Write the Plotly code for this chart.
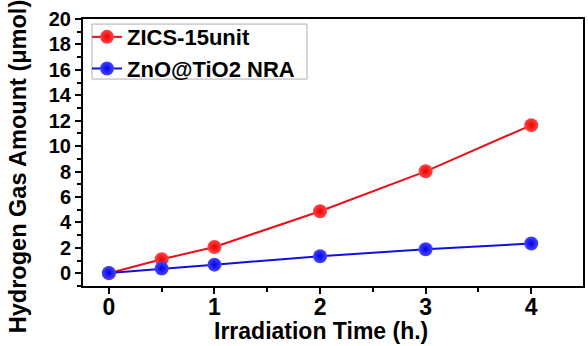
import plotly.graph_objects as go

# Irradiation time (h) and hydrogen evolved (umol)
time_h = [0, 0.5, 1, 2, 3, 4]
zics_15unit = [0.0, 1.1, 2.07, 4.88, 8.02, 11.65]
zno_tio2_nra = [0.03, 0.38, 0.68, 1.34, 1.89, 2.34]

series_names = ["ZICS-15unit", "ZnO@TiO2 NRA"]
line_colors = ["#e8101a", "#1010e0"]
core_colors = ["#ff4646", "#4646ff"]
edge_colors = ["#ea0000", "#0000ea"]

x_ticks = [0, 1, 2, 3, 4]
y_ticks = list(range(0, 21, 2))

font_family = "Liberation Sans, Arial, sans-serif"

fig = go.Figure()
for name, ys, lc, cc, ec in zip(series_names, [zics_15unit, zno_tio2_nra],
                                line_colors, core_colors, edge_colors):
    fig.add_trace(go.Scatter(
        x=time_h, y=ys, name=name, mode="lines+markers",
        line=dict(color=lc, width=2),
        marker=dict(size=14, color=cc, line=dict(width=0),
                    gradient=dict(type="radial", color=ec)),
    ))

axis_common = dict(
    showline=True, linecolor="black", linewidth=2, mirror=True,
    ticks="outside", ticklen=6, tickwidth=1.5, tickcolor="black",
    showgrid=False, zeroline=False,
)

title_font = dict(family=font_family, size=23, color="black", weight="bold")

fig.update_layout(
    width=588, height=346,
    margin=dict(l=83, r=3, t=19, b=60),
    paper_bgcolor="white", plot_bgcolor="white",
    showlegend=True,
    legend=dict(
        x=0.008, y=1.011, xanchor="left", yanchor="top",
        bgcolor="rgba(0,0,0,0)", borderwidth=0,
        font=dict(family=font_family, size=22, color="black", weight="bold"),
        tracegroupgap=0, itemwidth=30,
    ),
    xaxis=dict(
        range=[-0.245, 4.49], tickvals=x_ticks,
        minor=dict(tickvals=[0.5, 1.5, 2.5, 3.5], ticks="outside", ticklen=4, tickcolor="black"),
        tickfont=dict(family=font_family, size=23, color="black", weight="bold"),
        ticklabelstandoff=-7,
        **axis_common,
    ),
    yaxis=dict(
        range=[-1, 20], tickvals=y_ticks,
        minor=dict(tickvals=list(range(-1, 20, 2)), ticks="outside", ticklen=4, tickcolor="black"),
        tickfont=dict(family=font_family, size=20, color="black", weight="bold"),
        **axis_common,
    ),
    shapes=[
        # legend frame
        dict(type="rect", xref="paper", yref="paper",
             x0=0.018, x1=0.448, y0=0.775, y1=0.981,
             line=dict(color="#b0b0b0", width=1), fillcolor="rgba(0,0,0,0)", layer="below"),
    ],
    annotations=[
        dict(text="Irradiation Time (h.)", xref="paper", yref="paper",
             x=0.475, y=-0.168, xanchor="center", yanchor="middle",
             showarrow=False, font=title_font),
        dict(text="Hydrogen Gas Amount (\u03bcmol)", xref="paper", yref="paper",
             x=-0.1295, y=0.446, xanchor="center", yanchor="middle",
             textangle=-90, showarrow=False,
             font=dict(family=font_family, size=23.5, color="black", weight="bold")),
    ],
)

fig.write_html("out.html")
